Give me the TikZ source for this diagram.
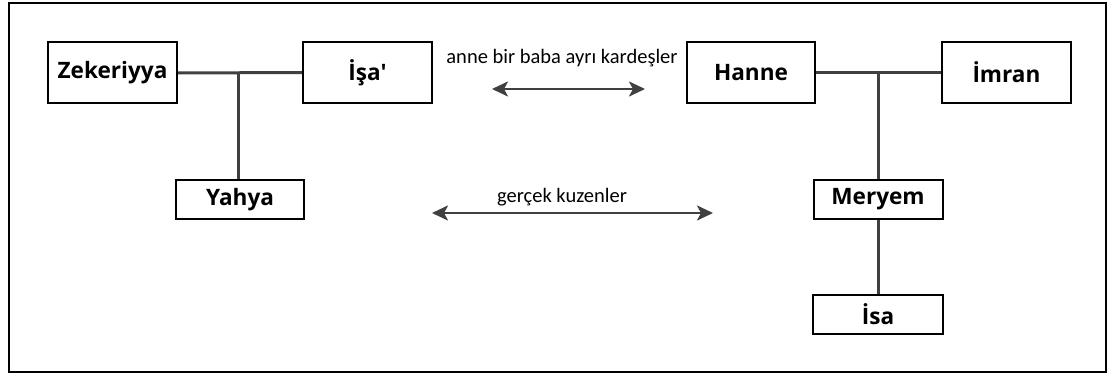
\documentclass[tikz,border=0pt]{standalone}
\usepackage{fontspec}
\setmainfont{Open Sans}
\newfontfamily\labfont{Carlito}
\usetikzlibrary{arrows.meta}
\definecolor{lnc}{HTML}{404040}
\tikzset{
  person/.style={draw=black, line width=2pt, fill=white, minimum width=#1, inner sep=0pt, font=\fontsize{22.6}{24}\selectfont\bfseries},
  tall/.style={minimum height=61pt},
  short/.style={minimum height=39pt},
  link/.style={draw=lnc, line width=3pt},
  rel/.style={draw=lnc, line width=2.5pt, {Stealth[length=16pt,width=15pt,inset=4pt]}-{Stealth[length=16pt,width=15pt,inset=4pt]}},
  lab/.style={font=\labfont\fontsize{20.5}{22}\selectfont, inner sep=0pt}
}
\begin{document}
\begin{tikzpicture}[x=1pt,y=-1pt]
\useasboundingbox (0,0) rectangle (1111,377);
\draw[line width=2.5pt, black] (9,3) rectangle (1106,372);
\coordinate (jl) at (238,72.5);
\coordinate (jr) at (878,72.5);
\node[person=129pt, tall] (zek) at (112.5,73) {Zekeriyya};
\node[person=129pt, tall] (isa1) at (367.5,72.5) {İşa\textquotesingle};
\node[person=128pt, tall] (han) at (751,72.5) {Hanne};
\node[person=129pt, tall] (imr) at (1006.5,72.5) {İmran};
\node[person=128pt, short] (yah) at (240,199.5) {Yahya};
\node[person=129pt, short] (mer) at (878,199.5) {Meryem};
\node[person=130pt, short] (isa2) at (878,314.5) {İsa};
\draw[link] (zek.east) -- (isa1.west);
\draw[link] (jl) -- (jl |- yah.north);
\draw[link] (han.east) -- (imr.west);
\draw[link] (jr) -- (mer.north);
\draw[link] (mer.south) -- (isa2.north);
\coordinate (a1) at (492,89);
\coordinate (a2) at (645,89);
\coordinate (b1) at (432,213);
\coordinate (b2) at (713,213);
\draw[rel] (a1) -- (a2);
\draw[rel] (b1) -- (b2);
\node[lab] (l1) at (562,58) {anne bir baba ayrı kardeşler};
\node[lab] (l2) at (562,197) {gerçek kuzenler};
\end{tikzpicture}
\end{document}
